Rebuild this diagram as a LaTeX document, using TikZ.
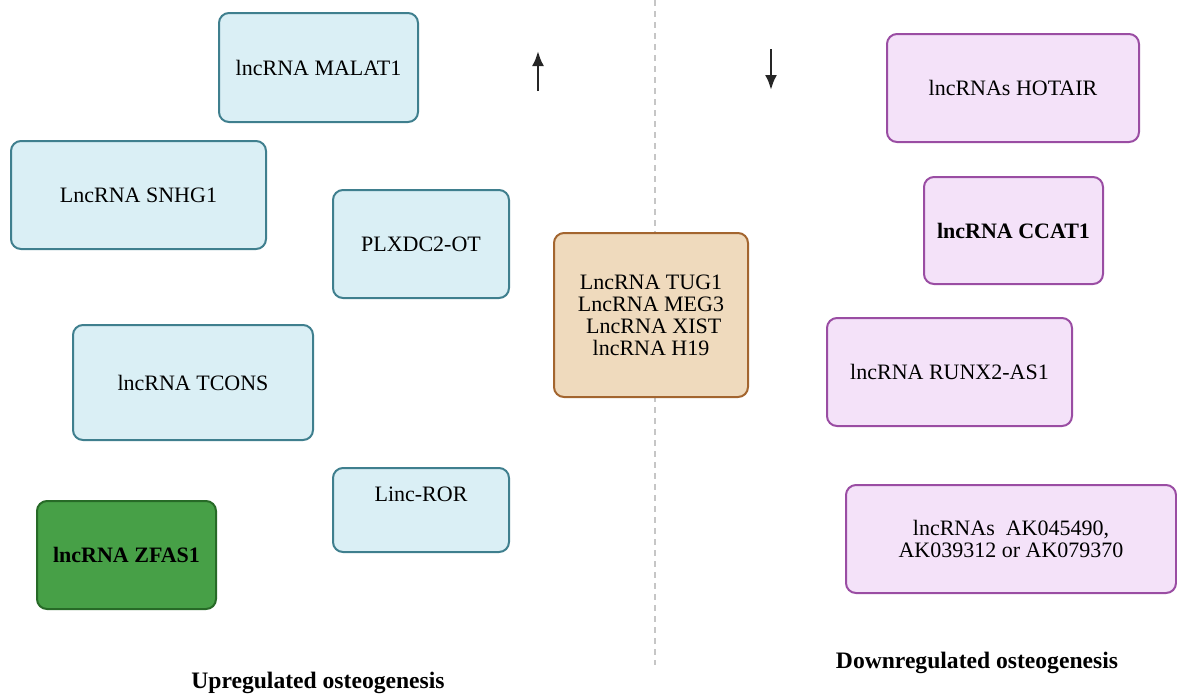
\documentclass[tikz,border=0pt]{standalone}
\usepackage{fontspec}
\setmainfont{Liberation Serif}
\usepackage{xcolor}
\usepackage{tikz}
\usetikzlibrary{positioning}
\usetikzlibrary{arrows.meta}

\definecolor{upfill}{HTML}{DAEFF5}
\definecolor{updraw}{HTML}{3F7F8E}
\definecolor{greenfill}{HTML}{47A047}
\definecolor{greendraw}{HTML}{276A27}
\definecolor{tanfill}{HTML}{EFDABD}
\definecolor{tandraw}{HTML}{A3652F}
\definecolor{downfill}{HTML}{F4E2F9}
\definecolor{downdraw}{HTML}{9A4DA3}

\begin{document}
\begin{tikzpicture}[x=0.5pt,y=-0.5pt,
  box/.style={rectangle, rounded corners=5pt, line width=1pt, font=\fontsize{11}{11}\selectfont, align=center, inner sep=0pt},
  upbox/.style={box, fill=upfill, draw=updraw},
  downbox/.style={box, fill=downfill, draw=downdraw},
  title/.style={font=\fontsize{11.8}{12}\selectfont\bfseries}]

% Fix the page size
\useasboundingbox (0,0) rectangle (1177,697);

% Dividing line
\coordinate (divtop) at (655,0);
\coordinate (divbot) at (655,665);
\draw[gray!45, line width=1pt, dashed, dash pattern=on 3pt off 2.5pt] (divtop) -- (divbot);

% Upregulated side
\node[upbox, minimum width=99.5pt, minimum height=54.5pt] (malat) at (318.5,67.5) {lncRNA MALAT1};
\node[upbox, minimum width=127.5pt, minimum height=54pt] (snhg) at (138.5,195) {LncRNA SNHG1};
\node[upbox, minimum width=88pt, minimum height=54pt] (plxdc) at (421,244) {PLXDC2-OT};
\node[upbox, minimum width=120pt, minimum height=57.5pt] (tcons) at (193,382.5) {lncRNA TCONS};
\node[upbox, minimum width=88pt, minimum height=42pt] (ror) at (421,510) {Linc-ROR\\[5pt]};
\node[box, fill=greenfill, draw=greendraw, minimum width=89.5pt, minimum height=54pt, font=\fontsize{11}{11}\selectfont\bfseries] (zfas) at (126.5,555) {lncRNA ZFAS1};

% Shared box
\node[box, fill=tanfill, draw=tandraw, minimum width=97pt, minimum height=82pt, font=\fontsize{11}{11}\selectfont] (shared) at (651,315) {LncRNA TUG1\\LncRNA MEG3\\\ LncRNA XIST\\lncRNA H19};

% Downregulated side
\node[downbox, minimum width=126pt, minimum height=54pt] (hotair) at (1013,88) {lncRNAs HOTAIR};
\node[downbox, minimum width=89.5pt, minimum height=53.5pt, font=\fontsize{11}{11}\selectfont\bfseries] (ccat) at (1013.5,230.5) {lncRNA CCAT1};
\node[downbox, minimum width=122.5pt, minimum height=54pt] (runx) at (949.5,372) {lncRNA RUNX2-AS1};
\node[downbox, minimum width=165pt, minimum height=54pt] (ak) at (1011,539) {lncRNAs\ \ AK045490,\\AK039312 or AK079370};

% Arrows
\coordinate (upfrom) at (538,91);
\coordinate (upto) at (538,51);
\coordinate (downfrom) at (771,49);
\coordinate (downto) at (771,90);
\draw[black!85, line width=1.3pt, -{Latex[length=7.5pt,width=6pt]}] (upfrom) -- (upto);
\draw[black!85, line width=1.3pt, -{Latex[length=7.5pt,width=6pt]}] (downfrom) -- (downto);

% Titles
\node[title] (uptitle) at (318,683) {Upregulated osteogenesis};
\node[title] (downtitle) at (977,663) {Downregulated osteogenesis};

\end{tikzpicture}
\end{document}
